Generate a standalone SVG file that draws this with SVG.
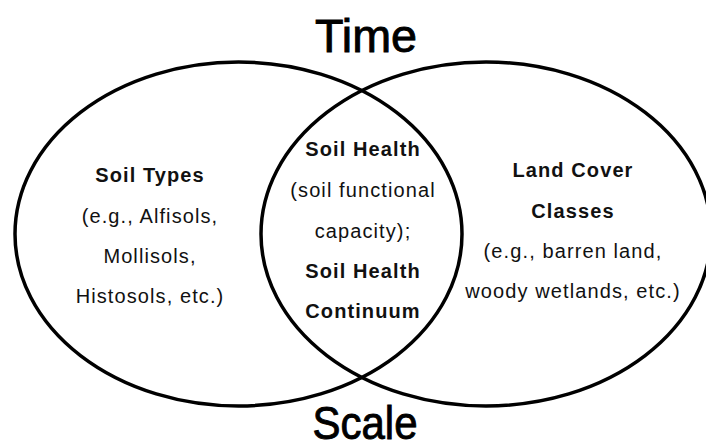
<svg xmlns="http://www.w3.org/2000/svg" width="706" height="448" viewBox="0 0 706 448">
  <style>
    .ring { fill: none; stroke: #000; stroke-width: 3.5; }
    .t { font-family: "Liberation Sans", Arial, sans-serif; font-size: 20px; fill: #111; text-anchor: middle; letter-spacing: 1.1px; }
    .b { font-weight: bold; }
    .title { font-family: "Liberation Sans", Arial, sans-serif; font-size: 46px; fill: #000; stroke: #000; stroke-width: 0.9; text-anchor: middle; }
  </style>
  <rect width="706" height="448" fill="#fff"/>
  <g id="soil-types">
    <ellipse class="ring" cx="238.5" cy="234" rx="223.5" ry="172"/>
    <text class="t b" x="150" y="182">Soil Types</text>
    <text class="t" x="150" y="223">(e.g., Alfisols,</text>
    <text class="t" x="150" y="263">Mollisols,</text>
    <text class="t" x="150" y="303">Histosols, etc.)</text>
  </g>
  <g id="land-cover">
    <ellipse class="ring" cx="486" cy="234" rx="225" ry="172"/>
    <text class="t b" x="573" y="177">Land Cover</text>
    <text class="t b" x="573" y="218">Classes</text>
    <text class="t" x="573" y="258">(e.g., barren land,</text>
    <text class="t" x="573" y="298">woody wetlands, etc.)</text>
  </g>
  <g id="soil-health">
    <text class="t b" x="363" y="156">Soil Health</text>
    <text class="t" x="363" y="197">(soil functional</text>
    <text class="t" x="363" y="238">capacity);</text>
    <text class="t b" x="363" y="278">Soil Health</text>
    <text class="t b" x="363" y="318">Continuum</text>
  </g>
  <g id="time">
    <text class="title" x="366" y="52" textLength="102" lengthAdjust="spacingAndGlyphs">Time</text>
  </g>
  <g id="scale">
    <text class="title" x="365" y="439" font-size="40" textLength="105" lengthAdjust="spacingAndGlyphs">Scale</text>
  </g>
  <g id="connectors"/>
</svg>
